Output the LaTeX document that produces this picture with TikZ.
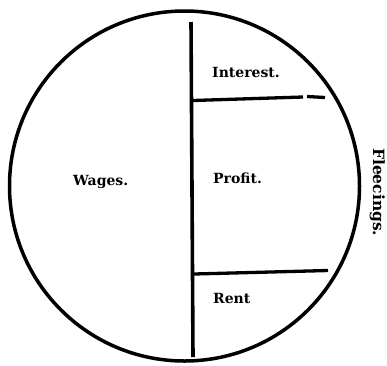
\documentclass[tikz,border=0pt]{standalone}
\usepackage{tikz}
\usepackage{fontspec}
\setmainfont{DejaVu Serif}
\usetikzlibrary{positioning, calc}

\begin{document}
\begin{tikzpicture}[
			x=1pt, y=-1pt,
			share/.style={anchor=base west, inner sep=0pt, font=\fontsize{14}{17}\selectfont\bfseries},
			rim/.style={line width=3.5pt},
			divider/.style={line width=3.6pt}
			]
			\useasboundingbox (0,0) rectangle (387,365);
			
			\draw[rim] (184.5,186) circle (175);
			
			\coordinate (top) at (191,22);
			\coordinate (bottom) at (193,357);
			\coordinate (int-l) at (193,100.5);
			\coordinate (int-r) at (303,97);
			\coordinate (dash-l) at (307,96.5);
			\coordinate (dash-r) at (325,97.5);
			\coordinate (rent-l) at (194,274);
			\coordinate (rent-r) at (328,270.5);
			
			\draw[divider] (top) -- (bottom);
			\draw[divider, line width=3.3pt] (int-l) -- (int-r);
			\draw[divider, line width=3.3pt] (dash-l) -- (dash-r);
			\draw[divider, line width=3.3pt] (rent-l) -- (rent-r);
			
			\node[share] (interest) at (212,77) {Interest.};
			\node[share] (profit) at (213,183) {Profit.};
			\node[share] (wages) at (73,185) {Wages.};
			\node[share] (rent) at (213,303) {Rent};
			\node[share, rotate=-90, font=\fontsize{15.5}{18}\selectfont\bfseries] (fleecings) at (373,148) {Fleecings.};
		\end{tikzpicture}
\end{document}
